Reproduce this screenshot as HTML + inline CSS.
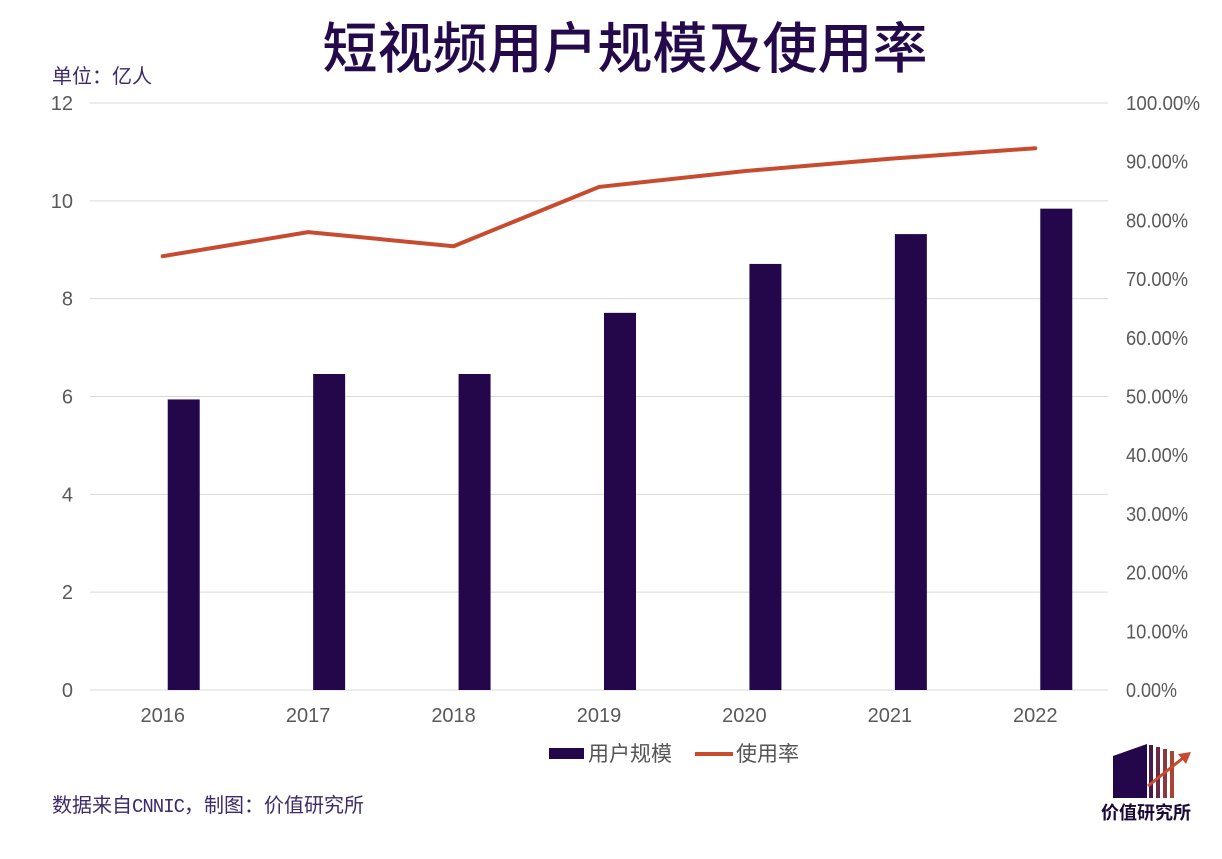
<!DOCTYPE html>
<html><head><meta charset="utf-8">
<style>
body{margin:0;background:#fff;}
svg text{font-family:"Liberation Sans","Noto Sans CJK SC",sans-serif;}
</style></head>
<body>
<svg id="chart" width="1222" height="854" xmlns="http://www.w3.org/2000/svg">
<text x="625" y="68" text-anchor="middle" font-size="55" fill="#240a4a" font-weight="500">短视频用户规模及使用率</text>
<text x="52" y="83" font-size="20" fill="#3d2a6a">单位：亿人</text>
<g id="grid"></g><g id="bars"></g><g id="line"></g><g id="axes"></g>
<g>
<rect x="549" y="748" width="35" height="11" fill="#24074b"/>
<text x="588" y="761" font-size="21" fill="#555">用户规模</text>
<line x1="695" y1="754" x2="733" y2="754" stroke="#c84b2f" stroke-width="4"/>
<text x="736" y="761" font-size="21" fill="#555">使用率</text>
</g>
<text x="52" y="812" font-size="20" fill="#3d2a6a">数据来自<tspan font-family="Liberation Mono" font-size="19" letter-spacing="-1">CNNIC</tspan>，制图：价值研究所</text>
<g>
<polygon points="1113,756 1147,744 1147,798 1113,798" fill="#24074b"/>
<rect x="1149" y="745" width="4" height="53" fill="#4a1a4a"/>
<rect x="1156" y="747" width="4" height="51" fill="#6a2a45"/>
<rect x="1163" y="749" width="4" height="49" fill="#8a3a3e"/>
<rect x="1170" y="751" width="4" height="47" fill="#a84535"/>
<line x1="1148" y1="786" x2="1183" y2="758" stroke="#c84b2f" stroke-width="3"/>
<polygon points="1191,752 1178,754 1186,764" fill="#c84b2f"/>
<text x="1146" y="819" text-anchor="middle" font-size="18" font-weight="bold" fill="#1a0a3a">价值研究所</text>
</g>
</svg>
<script>
const categories=["2016","2017","2018","2019","2020","2021","2022"];
const users=[5.94,6.46,6.46,7.71,8.71,9.32,9.84];
const rates=[73.9,78.0,75.6,85.7,88.4,90.5,92.3];
const leftTicks=[0,2,4,6,8,10,12];
const rightTicks=[0,10,20,30,40,50,60,70,80,90,100];
const NS="http://www.w3.org/2000/svg";
const L=90,R=1108,T=103,B=690;
const band=(R-L)/categories.length;
const xC=i=>L+band*(i+0.5);
const yL=v=>B-(v/12)*(B-T);
const yR=v=>B-(v/100)*(B-T);
function mk(tag,attrs,parent,txt){const e=document.createElementNS(NS,tag);for(const k in attrs)e.setAttribute(k,attrs[k]);if(txt!==undefined)e.textContent=txt;document.getElementById(parent).appendChild(e);return e;}
leftTicks.forEach(t=>{
 const g=mk('line',{x1:L,x2:R,y1:yL(t),y2:yL(t),stroke:'#d9d9d9','stroke-width':1},'grid');
 
 
 const tx=mk('text',{x:73,y:yL(t)+7,'text-anchor':'end','font-size':20,fill:'#595959'},'axes',String(t));
 
 
});
rightTicks.forEach(t=>{
 const len=t>=100?74:(t>=10?62:51);
 const tx=mk('text',{x:1126,y:yR(t)+7,'font-size':20,fill:'#595959',textLength:len,lengthAdjust:'spacingAndGlyphs'},'axes',t.toFixed(2)+'%');
 
 
});
const bw=32, off=21;
categories.forEach((c,i)=>{
 const r=mk('rect',{x:xC(i)+off-bw/2,y:yL(users[i]),width:bw,height:B-yL(users[i]),fill:'#24074b'},'bars');
 
 
 const tx=mk('text',{x:xC(i),y:722,'text-anchor':'middle','font-size':20,fill:'#595959'},'axes',c);
 
 
});
const pts=rates.map((v,i)=>xC(i)+','+yR(v)).join(' ');
const pl=mk('polyline',{points:pts,fill:'none',stroke:'#c84b2f','stroke-width':4,'stroke-linejoin':'round','stroke-linecap':'round'},'line');


</script>
</body></html>
